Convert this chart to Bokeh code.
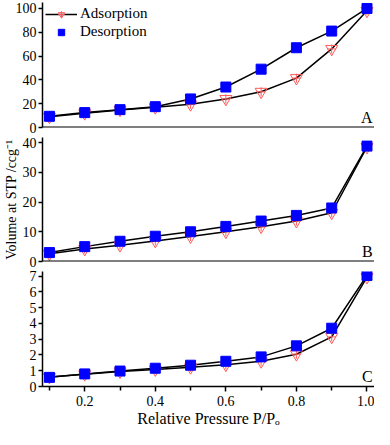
from bokeh.plotting import figure
from bokeh.layouts import column
from bokeh.models import FixedTicker, Range1d, Span, Label, Legend, LegendItem, PrintfTickFormatter
from bokeh.embed import file_html
from bokeh.resources import INLINE

# ---- data ----
pressure = [0.1, 0.2, 0.3, 0.4, 0.5, 0.6, 0.7, 0.8, 0.9, 1.0]
a_ads = [9.0, 12.0, 14.8, 17.0, 19.5, 24.0, 30.0, 41.5, 66.0, 98.0]
a_des = [9.4, 12.5, 15.0, 17.5, 24.0, 34.0, 49.0, 67.0, 81.0, 100.0]
b_ads = [2.6, 4.2, 5.5, 6.9, 8.4, 10.0, 11.7, 13.6, 16.4, 38.5]
b_des = [3.0, 5.0, 6.8, 8.5, 10.0, 11.8, 13.6, 15.5, 18.0, 38.8]
c_ads = [0.60, 0.78, 0.95, 1.08, 1.22, 1.38, 1.60, 2.05, 3.15, 6.95]
c_des = [0.58, 0.80, 0.98, 1.16, 1.35, 1.60, 1.88, 2.58, 3.70, 7.05]
a_ticks = [0, 20, 40, 60, 80, 100]
b_ticks = [0, 10, 20, 30, 40]
c_ticks = [0, 1, 2, 3, 4, 5, 6, 7]
x_ticks = [0.2, 0.4, 0.6, 0.8, 1.0]
x_minor = [0.1, 0.3, 0.5, 0.7, 0.9]
panel_names = ["A", "B", "C"]

FONT = "'Liberation Serif'"
RED = "#ff5a5a"
BLUE = "#0000ff"
W = 374
x_range = Range1d(0.0803, 1.0213)


def make_panel(ads, des, ticks, ymax, height, top, bottom, name, show_x):
    p = figure(width=W, height=height, x_range=x_range, y_range=Range1d(0, ymax),
               output_backend="svg", toolbar_location=None,
               min_border_left=40, min_border_right=0,
               min_border_top=top, min_border_bottom=bottom)
    p.outline_line_color = None
    p.xgrid.visible = False
    p.ygrid.visible = False
    p.background_fill_color = "white"
    p.border_fill_color = "white"

    yax = p.yaxis[0]
    yax.ticker = FixedTicker(ticks=ticks, minor_ticks=[])
    yax.axis_line_width = 1.5
    yax.major_tick_line_width = 1.5
    yax.major_tick_in = 0
    yax.major_tick_out = 4
    yax.minor_tick_line_color = None
    yax.major_label_standoff = 2
    yax.major_label_text_font = FONT
    yax.major_label_text_font_size = "14px"
    yax.major_label_text_color = "black"

    xax = p.xaxis[0]
    if show_x:
        xax.ticker = FixedTicker(ticks=x_ticks, minor_ticks=x_minor)
        xax.formatter = PrintfTickFormatter(format="%.1f")
        xax.axis_line_width = 1.5
        xax.major_tick_line_width = 1.5
        xax.minor_tick_line_width = 1.5
        xax.major_tick_in = 0
        xax.major_tick_out = 5
        xax.minor_tick_in = 0
        xax.minor_tick_out = 4
        xax.major_label_standoff = 4
        xax.major_label_text_font = FONT
        xax.major_label_text_font_size = "14px"
        xax.major_label_text_color = "black"
        xax.axis_label = "Relative Pressure P/P\u2092"
        xax.axis_label_standoff = 1
        xax.axis_label_text_font = FONT
        xax.axis_label_text_font_size = "16px"
        xax.axis_label_text_font_style = "normal"
        xax.axis_label_text_color = "black"
    else:
        xax.visible = False
        p.add_layout(Span(location=0, dimension="width", line_color="black", line_width=2))

    ln_a = p.line(pressure, ads, line_color="black", line_width=1.5)
    p.line(pressure, des, line_color="black", line_width=1.5)
    tri = p.scatter(pressure, ads, marker="inverted_triangle", size=12, fill_color=None,
                    line_color=RED, line_width=1)
    crs = p.scatter(pressure, ads, marker="cross", size=9, line_color=RED, line_width=1)
    sq = p.scatter(pressure, des, marker="square", size=10, fill_color=BLUE, line_color=BLUE)

    p.add_layout(Label(x=1.016, y=0, y_offset=2, text=name, text_align="right",
                       text_baseline="bottom", text_font=FONT, text_font_size="16px",
                       text_color="black"))
    return p, ln_a, tri, crs, sq


pA, ln_a, tri, crs, sq = make_panel(a_ads, a_des, a_ticks, 105, 134, 2, 7, panel_names[0], False)
pB, *_ = make_panel(b_ads, b_des, b_ticks, 41.7, 134, 3, 7, panel_names[1], False)
pC, *_ = make_panel(c_ads, c_des, c_ticks, 7.3, 161, 3, 36, panel_names[2], True)

yb = pB.yaxis[0]
yb.axis_label = "Volume at STP /ccg\u207b\u00b9"
yb.axis_label_standoff = 1
yb.axis_label_text_font = FONT
yb.axis_label_text_font_size = "14px"
yb.axis_label_text_font_style = "normal"
yb.axis_label_text_color = "black"

legend = Legend(items=[LegendItem(label="Adsorption", renderers=[ln_a, tri, crs]),
                       LegendItem(label="Desorption", renderers=[sq])],
                location="top_left")
legend.border_line_color = None
legend.background_fill_alpha = 0
legend.label_text_font = FONT
legend.label_text_font_size = "15px"
legend.label_text_color = "black"
legend.glyph_width = 32
legend.glyph_height = 16
legend.label_height = 16
legend.spacing = 1
legend.padding = 0
legend.margin = 3
legend.label_standoff = 3
pA.add_layout(legend)

layout = column(pA, pB, pC, spacing=0)
open("out.html", "w").write(file_html(layout, INLINE))
